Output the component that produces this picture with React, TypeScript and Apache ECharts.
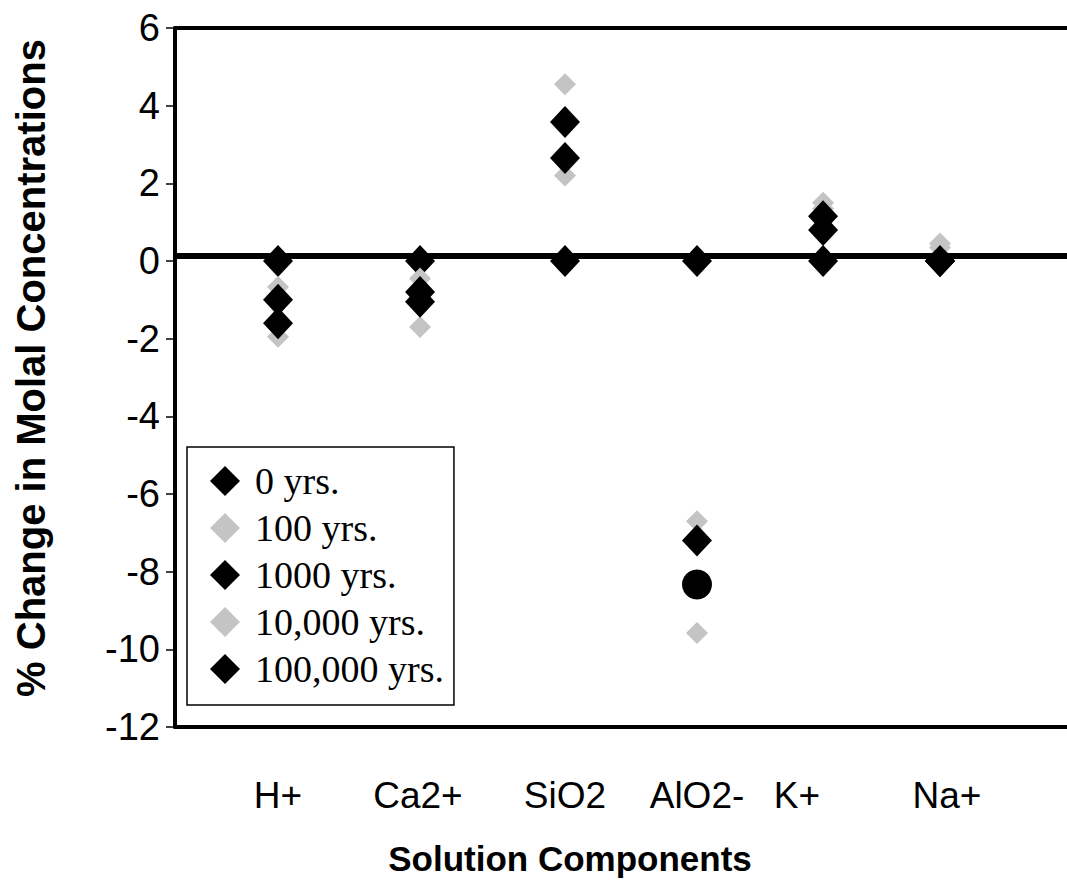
import React, { useEffect, useRef } from "react";
import * as echarts from "echarts";

const categories = ["H+", "Ca2+", "SiO2", "AlO2-", "K+", "Na+"];
const markerX = [1.155, 2.747, 4.372, 5.852, 7.265, 8.576];
const labelX = [1.155, 2.724, 4.372, 5.852, 6.973, 8.655];
const seriesNames = ["0 yrs.", "100 yrs.", "1000 yrs.", "10,000 yrs.", "100,000 yrs."];
const yrs0 = [0, 0, 0, 0, 0, 0];
const yrs100 = [-0.67, -0.45, 2.2, -6.7, 1.5, 0.35];
const yrs1000 = [-1.0, -0.8, 2.65, -7.2, 0.8, 0];
const yrs10000 = [-1.95, -1.7, 4.55, -9.58, 1.35, 0.45];
const yrs100000 = [-1.6, -1.05, 3.58, -8.33, 1.15, 0];
const circleIndex = 3; // AlO2- point of 100,000 yrs drawn as a circle
const zeroLine = 0.13;
const yTicks = { min: -12, max: 6, interval: 2 };

const BLACK = "#000000";
const GRAY = "#c4c4c4";

export default function App() {
  const ref = useRef<HTMLDivElement>(null);
  useEffect(() => {
    if (!ref.current) return;
    const chart = echarts.init(ref.current, null, { renderer: "svg" });
    const allSeries = [yrs0, yrs100, yrs1000, yrs10000, yrs100000];
    const isGray = [false, true, false, true, false];
    const series: any[] = allSeries.map((vals, si) => ({
      type: "scatter",
      name: seriesNames[si],
      symbol: "diamond",
      symbolSize: isGray[si] ? [22, 22] : [30, 32],
      itemStyle: { color: isGray[si] ? GRAY : BLACK, opacity: 1 },
      data: vals.map((v, i) => {
        if (si === 4 && i === circleIndex) {
          return { value: [markerX[i], v], symbol: "circle", symbolSize: 30 };
        }
        return [markerX[i], v];
      }),
      z: 3 + si,
    }));
    series[0].markLine = {
      silent: true,
      symbol: ["none", "none"],
      label: { show: false },
      lineStyle: { color: BLACK, width: 6, type: "solid" },
      data: [{ yAxis: zeroLine }],
      z: 2,
    };
    const labelFormatter = (val: number) => {
      let best = 0;
      let d = Infinity;
      labelX.forEach((p, i) => {
        if (Math.abs(p - val) < d) {
          d = Math.abs(p - val);
          best = i;
        }
      });
      return categories[best];
    };
    chart.setOption({
      animation: false,
      backgroundColor: "#ffffff",
      grid: {
        left: 175,
        top: 28,
        right: 0,
        bottom: 888 - 727,
        show: false,
      },
      xAxis: [
        {
          type: "value",
          min: 0,
          max: 10,
          position: "bottom",
          splitLine: { show: false },
          axisTick: { show: false },
          axisLine: { show: true, onZero: false, lineStyle: { color: BLACK, width: 4 } },
          axisLabel: {
            customValues: labelX,
            margin: 50,
            color: BLACK,
            fontFamily: "Liberation Sans, Arial",
            fontSize: 37,
            formatter: labelFormatter,
          },
        },
        {
          type: "value",
          min: 0,
          max: 10,
          position: "top",
          splitLine: { show: false },
          axisTick: { show: false },
          axisLabel: { show: false },
          axisLine: { show: true, onZero: false, lineStyle: { color: BLACK, width: 4 } },
        },
      ],
      yAxis: {
        type: "value",
        min: yTicks.min,
        max: yTicks.max,
        interval: yTicks.interval,
        splitLine: { show: false },
        axisLine: { show: true, onZero: false, lineStyle: { color: BLACK, width: 4 } },
        axisTick: { show: true, inside: false, length: 9, lineStyle: { color: BLACK, width: 1.5 } },
        axisLabel: {
          margin: 15,
          color: BLACK,
          fontFamily: "Liberation Sans, Arial",
          fontSize: 38,
        },
      },
      legend: {
        orient: "vertical",
        left: 187,
        top: 447,
        backgroundColor: "#ffffff",
        borderColor: BLACK,
        borderWidth: 1.5,
        borderRadius: 0,
        padding: [15, 10, 17, 23],
        itemWidth: 30,
        itemHeight: 30,
        itemGap: 9,
        textStyle: {
          color: BLACK,
          fontFamily: "Liberation Serif, Times New Roman",
          fontSize: 38,
          lineHeight: 36,
          padding: [0, 0, 0, 10],
        },
        data: seriesNames.map((n) => ({ name: n, icon: "diamond" })),
      },
      graphic: [
        {
          type: "text",
          x: 31,
          y: 368,
          rotation: Math.PI / 2,
          style: {
            text: "% Change in Molal Concentrations",
            fontFamily: "Liberation Sans, Arial",
            fontWeight: "bold",
            fontSize: 40,
            fill: BLACK,
            align: "center",
            verticalAlign: "middle",
          },
        },
        {
          type: "text",
          x: 570,
          y: 858,
          style: {
            text: "Solution Components",
            fontFamily: "Liberation Sans, Arial",
            fontWeight: "bold",
            fontSize: 35,
            fill: BLACK,
            align: "center",
            verticalAlign: "middle",
          },
        },
      ],
      series,
    });
    return () => chart.dispose();
  }, []);
  return (
    <div
      ref={ref}
      style={{ position: "fixed", left: 0, top: 0, width: 1067, height: 888, background: "#fff" }}
    />
  );
}
